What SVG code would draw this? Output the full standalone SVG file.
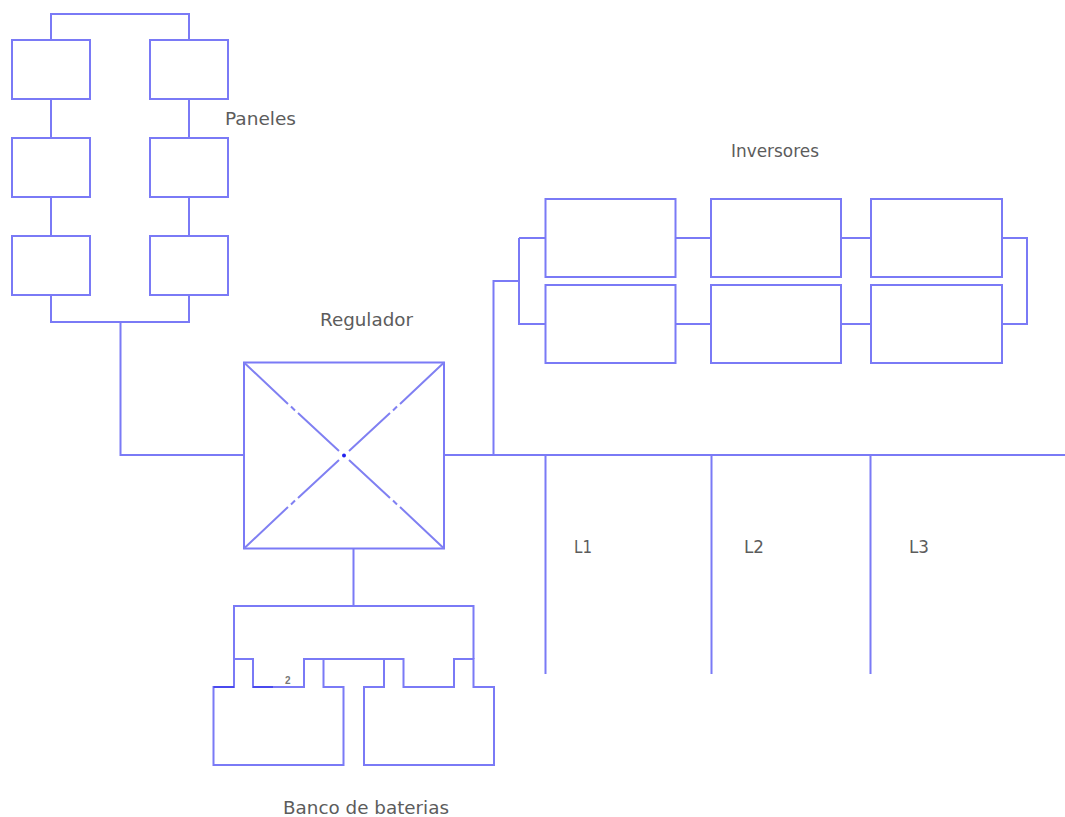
<svg xmlns="http://www.w3.org/2000/svg" width="1065" height="817" viewBox="0 0 1065 817">
<style>
.s{fill:#fff;stroke:#7a7af6;stroke-width:2}
.c{fill:none;stroke:#7a7af6;stroke-width:2}
.d{fill:none;stroke:#8080f2;stroke-width:2}
.k{fill:none;stroke:#4a4aee;stroke-width:2}
.t{font-family:"DejaVu Sans","Liberation Sans",sans-serif;font-size:17.5px;fill:#5c5c5c}
</style>
<rect width="1065" height="817" fill="#fff"/>
<g id="connectors">
<path class="c" d="M51 40V14H189V40M51 99V138M189 99V138M51 197V236M189 197V236M51 295V322H189V295M120.500 322V455H244"/>
<path class="c" d="M444 455H1065M493.500 455V281H519M519 238H545M519 238V324H545M675 238H711M841 238H871M1002 238H1027V324H1002M675 324H711M841 324H871"/>
<path class="c" d="M545.500 455V674M711.500 455V674M870.500 455V674"/>
<path class="c" d="M353.500 548V606M234 659V606H473.500V659"/>
<path class="c" d="M304 659H403.500"/>
</g>
<g id="panel-1"><rect class="s" x="12" y="40" width="78" height="59"/></g>
<g id="panel-2"><rect class="s" x="150" y="40" width="78" height="59"/></g>
<g id="panel-3"><rect class="s" x="12" y="138" width="78" height="59"/></g>
<g id="panel-4"><rect class="s" x="150" y="138" width="78" height="59"/></g>
<g id="panel-5"><rect class="s" x="12" y="236" width="78" height="59"/></g>
<g id="panel-6"><rect class="s" x="150" y="236" width="78" height="59"/></g>
<g id="paneles-label"><text class="t" x="225" y="125" textLength="71" lengthAdjust="spacingAndGlyphs">Paneles</text></g>
<g id="inversores-label"><text class="t" x="731" y="157" textLength="88" lengthAdjust="spacingAndGlyphs">Inversores</text></g>
<g id="inverter-1"><rect class="s" x="545.500" y="199" width="130" height="78"/></g>
<g id="inverter-2"><rect class="s" x="711" y="199" width="130" height="78"/></g>
<g id="inverter-3"><rect class="s" x="871" y="199" width="131" height="78"/></g>
<g id="inverter-4"><rect class="s" x="545.500" y="285" width="130" height="78"/></g>
<g id="inverter-5"><rect class="s" x="711" y="285" width="130" height="78"/></g>
<g id="inverter-6"><rect class="s" x="871" y="285" width="131" height="78"/></g>
<g id="regulador">
<text class="t" x="320" y="326" textLength="93" lengthAdjust="spacingAndGlyphs">Regulador</text>
<rect class="s" x="244" y="362.500" width="200" height="186"/>
<path class="d" d="M244 362.500L288 404M291 406.500L295 410.500M298 413L339 451M349 460L390 498M393 500.500L397 504.500M400 507L444 548.500M444 362.500L400 404M397 406.500L393 410.500M390 413L349 451M339 460L298 498M295 500.500L291 504.500M288 507L244 548.500"/>
<circle cx="344" cy="455.500" r="2" fill="#2222ee"/>
</g>
<g id="label-l1"><text class="t" x="574" y="553" textLength="18" lengthAdjust="spacingAndGlyphs">L1</text></g>
<g id="label-l2"><text class="t" x="744" y="553" textLength="20" lengthAdjust="spacingAndGlyphs">L2</text></g>
<g id="label-l3"><text class="t" x="909" y="553" textLength="20" lengthAdjust="spacingAndGlyphs">L3</text></g>
<g id="battery-1">
<path class="c" d="M213.500 687H234V659H253V687H304V659H323.500V687H343.500V765H213.500Z"/>
<path class="k" d="M213.500 687H234M253 687H273"/>
<text x="285" y="684" style="font-family:'Liberation Sans',sans-serif;font-size:10px;font-weight:bold;fill:#777">2</text>
</g>
<g id="battery-2">
<path class="c" d="M364 687H384V659H403.500V687H454V659H473.500V687H494V765H364Z"/>
</g>
<g id="banco-label"><text class="t" x="283" y="814" textLength="166" lengthAdjust="spacingAndGlyphs">Banco de baterias</text></g>
</svg>
